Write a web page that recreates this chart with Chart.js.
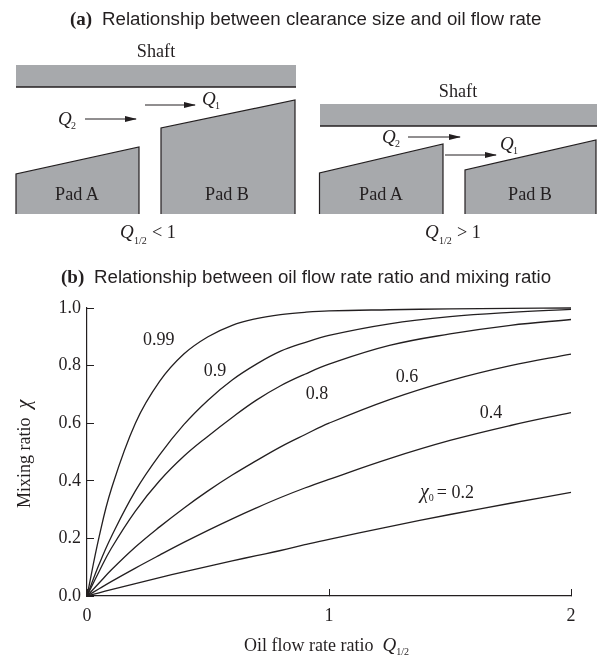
<!DOCTYPE html>
<html>
<head>
<meta charset="utf-8">
<script src="https://cdn.jsdelivr.net/npm/chart.js@4"></script>
<style>
  html, body { margin: 0; padding: 0; background: #fff; }
  #wrap { position: relative; width: 597px; height: 659px; overflow: hidden; }
  #chart { position: absolute; left: 0; top: 0; }
  #diagram { position: absolute; left: 0; top: 0; }
  #diagram text { font-family: "Liberation Serif", serif; font-size: 18.2px; fill: #231f20; }
  #diagram .head { font-family: "Liberation Sans", sans-serif; font-size: 18.7px; }
  #diagram .tag { font-family: "Liberation Serif", serif; font-weight: bold; font-size: 19px; }
  #diagram .q { font-style: italic; font-size: 19px; }
  #diagram .sub { font-size: 10px; }
  .pad { fill: #a7a9ac; stroke: #231f20; stroke-width: 1.2; }
  .shaft { fill: #a7a9ac; }
  .rule { stroke: #231f20; stroke-width: 1.4; }
</style>
</head>
<body>
<div id="wrap">
  <canvas id="chart" width="597" height="659"></canvas>
  <svg id="diagram" width="597" height="290" viewBox="0 0 597 290">
    <defs>
      <marker id="head" markerWidth="12" markerHeight="6" refX="11" refY="3" orient="auto" markerUnits="userSpaceOnUse">
        <path d="M0 0 L12 3 L0 6 Z" fill="#231f20"></path>
      </marker>
    </defs>

    <text class="tag" x="70" y="25">(a)</text>
    <text class="head" x="102" y="25">Relationship between clearance size and oil flow rate</text>

    <!-- left case -->
    <text x="156" y="57" text-anchor="middle">Shaft</text>
    <rect class="shaft" x="16" y="65" width="280" height="22"></rect>
    <line class="rule" x1="16" y1="87" x2="296" y2="87"></line>
    <path class="pad" d="M16 214 L16 174 L139 147 L139 214"></path>
    <path class="pad" d="M161 214 L161 128 L295 100 L295 214"></path>
    <text x="77" y="199.5" text-anchor="middle">Pad A</text>
    <text x="227" y="199.5" text-anchor="middle">Pad B</text>
    <line x1="145" y1="105" x2="195" y2="105" stroke="#231f20" marker-end="url(#head)"></line>
    <text class="q" x="202" y="105">Q</text><text class="sub" x="215" y="109">1</text>
    <line x1="85" y1="119" x2="136" y2="119" stroke="#231f20" marker-end="url(#head)"></line>
    <text class="q" x="58" y="125">Q</text><text class="sub" x="71" y="129">2</text>
    <text class="q" x="120" y="238">Q</text><text class="sub" x="134" y="244">1/2</text><text x="152" y="238">&lt; 1</text>

    <!-- right case -->
    <text x="458" y="97" text-anchor="middle">Shaft</text>
    <rect class="shaft" x="320" y="104" width="277" height="22"></rect>
    <line class="rule" x1="320" y1="126" x2="597" y2="126"></line>
    <path class="pad" d="M319.5 214 L319.5 173 L443 144 L443 214"></path>
    <path class="pad" d="M465 214 L465 170 L596 140 L596 214"></path>
    <text x="381" y="199.5" text-anchor="middle">Pad A</text>
    <text x="530" y="199.5" text-anchor="middle">Pad B</text>
    <line x1="408" y1="137" x2="460" y2="137" stroke="#231f20" marker-end="url(#head)"></line>
    <text class="q" x="382" y="143">Q</text><text class="sub" x="395" y="147">2</text>
    <line x1="445" y1="155" x2="496" y2="155" stroke="#231f20" marker-end="url(#head)"></line>
    <text class="q" x="500" y="150">Q</text><text class="sub" x="513" y="154">1</text>
    <text class="q" x="425" y="238">Q</text><text class="sub" x="439" y="244">1/2</text><text x="457" y="238">&gt; 1</text>

    <text class="tag" x="61" y="283">(b)</text>
    <text class="head" x="94" y="283">Relationship between oil flow rate ratio and mixing ratio</text>
  </svg>
</div>

<script>
const INK = "#231f20";
const SERIF = '"Liberation Serif", serif';

// oil flow rate ratio Q1/2
const flowRatio = [0, 0.05, 0.1, 0.2, 0.3, 0.4, 0.5, 0.6, 0.7, 0.8, 0.9, 1, 1.25, 1.5, 1.75, 2];

const curve099 = [0, 0.205, 0.37, 0.6, 0.745, 0.84, 0.9, 0.94, 0.963, 0.977, 0.985, 0.99, 0.994, 0.997, 0.999, 1];
const curve09 = [0, 0.11, 0.205, 0.365, 0.49, 0.595, 0.68, 0.75, 0.805, 0.85, 0.88, 0.905, 0.945, 0.97, 0.985, 0.995];
const curve08 = [0, 0.085, 0.165, 0.295, 0.4, 0.485, 0.555, 0.62, 0.68, 0.73, 0.77, 0.805, 0.87, 0.91, 0.94, 0.96];
const curve06 = [0, 0.045, 0.09, 0.17, 0.24, 0.305, 0.365, 0.42, 0.47, 0.518, 0.56, 0.6, 0.682, 0.748, 0.8, 0.84];
const curve04 = [0, 0.025, 0.05, 0.097, 0.142, 0.186, 0.228, 0.268, 0.306, 0.342, 0.375, 0.405, 0.477, 0.54, 0.592, 0.637];
const curve02 = [0, 0.011, 0.022, 0.043, 0.064, 0.084, 0.103, 0.122, 0.14, 0.158, 0.178, 0.197, 0.241, 0.283, 0.322, 0.36];

const curveNames = ["0.99", "0.9", "0.8", "0.6", "0.4"];
const curveLabelX = [0.297, 0.529, 0.95, 1.322, 1.669];
const curveLabelY = [0.887, 0.779, 0.702, 0.761, 0.636];

const allCurves = [curve099, curve09, curve08, curve06, curve04, curve02];

// draws text with italic / subscript pieces, starting at x
function drawRuns(ctx, x, y, runs) {
  ctx.textAlign = "left";
  ctx.textBaseline = "alphabetic";
  runs.forEach(r => {
    ctx.font = (r.italic ? "italic " : "") + (r.size || 18) + "px " + SERIF;
    ctx.fillText(r.text, x, y + (r.drop || 0));
    x += ctx.measureText(r.text).width + (r.gap || 0);
  });
}

const textPlugin = {
  id: "textPlugin",
  afterDraw(chart) {
    const ctx = chart.ctx;
    const sx = chart.scales.x;
    const sy = chart.scales.y;
    ctx.save();
    ctx.fillStyle = INK;

    curveNames.forEach((name, i) => {
      ctx.font = "18px " + SERIF;
      ctx.textAlign = "center";
      ctx.textBaseline = "middle";
      ctx.fillText(name, sx.getPixelForValue(curveLabelX[i]), sy.getPixelForValue(curveLabelY[i]));
    });

    drawRuns(ctx, sx.getPixelForValue(1.376), sy.getPixelForValue(0.341), [
      { text: "χ", italic: true, size: 20 },
      { text: "0", size: 10, drop: 3, gap: 3 },
      { text: "= 0.2" }
    ]);

    // axis titles have an italic symbol in them so they are drawn here
    drawRuns(ctx, 244, 651, [
      { text: "Oil flow rate ratio  " },
      { text: "Q", italic: true, size: 19 },
      { text: "1/2", size: 10, drop: 4 }
    ]);

    ctx.translate(30, 508);
    ctx.rotate(-Math.PI / 2);
    drawRuns(ctx, 0, 0, [
      { text: "Mixing ratio  " },
      { text: "χ", italic: true, size: 20 }
    ]);
    ctx.restore();
  }
};

new Chart(document.getElementById("chart"), {
  type: "line",
  data: {
    labels: flowRatio,
    datasets: allCurves.map(values => ({
      data: values.map((v, i) => ({ x: flowRatio[i], y: v })),
      borderColor: INK,
      borderWidth: 1.3,
      pointRadius: 0,
      tension: 0.4,
      clip: false
    }))
  },
  options: {
    responsive: false,
    animation: false,
    layout: { padding: { left: 30, right: 26, top: 308, bottom: 23 } },
    plugins: { legend: { display: false }, tooltip: { enabled: false } },
    scales: {
      x: {
        type: "linear",
        min: 0,
        max: 2,
        afterFit: s => { s.height = 40; },
        border: { color: INK, width: 1.2 },
        grid: { drawOnChartArea: false, color: INK, tickLength: -7 },
        ticks: { stepSize: 1, color: INK, padding: 16, maxRotation: 0, font: { family: SERIF, size: 18 } }
      },
      y: {
        type: "linear",
        min: 0,
        max: 1,
        afterFit: s => { s.width = 57; },
        border: { color: INK, width: 1.2 },
        grid: { drawOnChartArea: false, color: INK, tickLength: -7 },
        ticks: { stepSize: 0.2, color: INK, padding: 13, callback: v => v.toFixed(1), font: { family: SERIF, size: 18 } }
      }
    }
  },
  plugins: [textPlugin]
});
</script>
</body>
</html>
